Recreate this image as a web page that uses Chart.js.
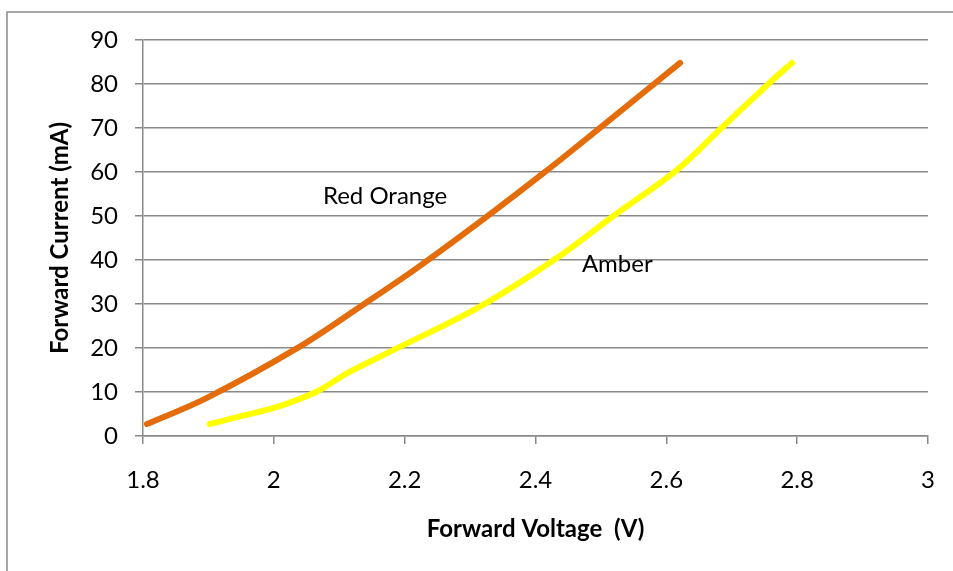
<!DOCTYPE html>
<html>
<head>
<meta charset="utf-8">
<script src="https://cdn.jsdelivr.net/npm/chart.js@4.4.1/dist/chart.umd.min.js"></script>
<style>
  body { margin: 0; background: #fff; }
  #wrap { width: 953px; height: 571px; }
</style>
</head>
<body>
<div id="wrap"><canvas id="ivChart" width="953" height="571"></canvas></div>
<script>
// forward voltage (V) / forward current (mA)
var redOrangeV = [1.806, 1.897, 2.035, 2.137, 2.218, 2.325, 2.417, 2.499, 2.621];
var redOrangeI = [2.7, 8.6, 19.9, 29.9, 38.1, 49.8, 60.3, 70.1, 84.8];
var amberV = [1.902, 1.950, 2.009, 2.066, 2.111, 2.188, 2.315, 2.432, 2.519, 2.615, 2.685, 2.758, 2.792];
var amberI = [2.7, 4.5, 6.8, 10.1, 14.2, 19.9, 29.4, 40.4, 50.0, 60.3, 70.1, 80.3, 84.8];

var seriesNames = ["Red Orange", "Amber"];
var seriesColors = ["#E46C0A", "#FFFF00"];
// where the series names sit, in data units (V, mA)
var labelV = [2.17, 2.525];
var labelI = [54.5, 39.1];

var xTitle = "Forward Voltage  (V)";
var yTitle = "Forward Current (mA)";

function toPoints(xs, ys) {
  var pts = [];
  for (var i = 0; i < xs.length; i++) {
    pts.push({x: xs[i], y: ys[i]});
  }
  return pts;
}

var gridGray = "#898989";
var fontName = "Lato, 'Open Sans', sans-serif";
var fontSize = 24;

// outer frame of the chart object
var framePlugin = {
  id: "frame",
  beforeDraw: function(chart) {
    var ctx = chart.ctx;
    ctx.save();
    ctx.fillStyle = "#fff";
    ctx.fillRect(0, 0, chart.width, chart.height);
    ctx.strokeStyle = "#8a8a8a";
    ctx.lineWidth = 1.5;
    ctx.strokeRect(7, 12, chart.width + 20, chart.height + 20);
    ctx.restore();
  }
};

// series names written next to the curves
var seriesLabelPlugin = {
  id: "seriesLabels",
  afterDatasetsDraw: function(chart) {
    var ctx = chart.ctx;
    var xs = chart.scales.x, ys = chart.scales.y;
    ctx.save();
    ctx.font = fontSize + "px " + fontName;
    ctx.fillStyle = "#000";
    ctx.textAlign = "center";
    ctx.textBaseline = "middle";
    for (var i = 0; i < seriesNames.length; i++) {
      ctx.fillText(seriesNames[i], xs.getPixelForValue(labelV[i]), ys.getPixelForValue(labelI[i]));
    }
    ctx.restore();
  }
};

var ctx = document.getElementById("ivChart");
var chart = new Chart(ctx, {
  type: "scatter",
  data: {
    datasets: [
      {
        label: seriesNames[0],
        data: toPoints(redOrangeV, redOrangeI),
        showLine: true,
        borderColor: seriesColors[0],
        backgroundColor: seriesColors[0],
        borderWidth: 6,
        borderCapStyle: "round",
        borderJoinStyle: "round",
        pointRadius: 0,
        tension: 0.35
      },
      {
        label: seriesNames[1],
        data: toPoints(amberV, amberI),
        showLine: true,
        borderColor: seriesColors[1],
        backgroundColor: seriesColors[1],
        borderWidth: 6,
        borderCapStyle: "round",
        borderJoinStyle: "round",
        pointRadius: 0,
        tension: 0.35
      }
    ]
  },
  options: {
    responsive: false,
    animation: false,
    devicePixelRatio: 1,
    layout: { padding: { left: 0, top: 40, right: 25, bottom: 0 } },
    plugins: {
      legend: { display: false },
      tooltip: { enabled: false }
    },
    scales: {
      x: {
        type: "linear",
        min: 1.8,
        max: 3,
        afterFit: function(scale) {
          scale.height = 135;
          // don't let the end labels push the plot inwards
          scale.paddingLeft = 0;
          scale.paddingRight = 0;
        },
        ticks: {
          stepSize: 0.2,
          color: "#000",
          padding: 22,
          font: { family: fontName, size: fontSize },
          callback: function(v) { return String(+v.toFixed(1)); }
        },
        grid: {
          drawOnChartArea: false,
          drawTicks: true,
          tickLength: 8,
          color: gridGray,
          lineWidth: 1.5
        },
        border: { display: true, color: gridGray, width: 1.5 },
        title: {
          display: true,
          text: xTitle,
          color: "#000",
          font: { family: fontName, size: fontSize, weight: "bold" },
          padding: { top: 0, bottom: 27 }
        }
      },
      y: {
        min: 0,
        max: 90,
        afterFit: function(scale) { scale.width = 143; },
        ticks: {
          stepSize: 10,
          color: "#000",
          padding: 17,
          font: { family: fontName, size: fontSize }
        },
        grid: {
          drawOnChartArea: true,
          drawTicks: true,
          tickLength: 8,
          color: gridGray,
          lineWidth: 1.5
        },
        border: { display: true, color: gridGray, width: 1.5 },
        title: {
          display: true,
          text: yTitle,
          color: "#000",
          font: { family: fontName, size: fontSize, weight: "bold" },
          padding: { top: 46, bottom: 0 }
        }
      }
    }
  },
  plugins: [framePlugin, seriesLabelPlugin]
});
</script>
</body>
</html>
